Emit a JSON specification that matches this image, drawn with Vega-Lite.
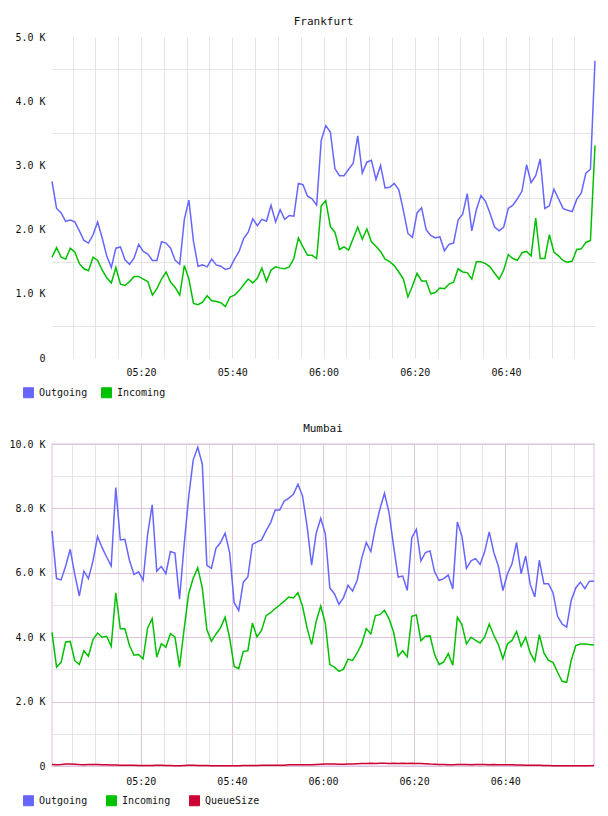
{
  "$schema": "https://vega.github.io/schema/vega-lite/v6.json",
  "background": "white",
  "padding": {"left": 7, "top": 16, "right": 12, "bottom": 5},
  "columns": 1,
  "align": "none",
  "spacing": 22,
  "config": {
    "font": "DejaVu Sans Mono",
    "view": {"stroke": null},
    "axis": {"labelFont": "DejaVu Sans Mono", "labelFontSize": 10, "labelColor": "#111111", "ticks": false, "domain": false, "labelOverlap": false, "labelFlush": false},
    "legend": {"symbolType": "square", "symbolSize": 100, "symbolStrokeWidth": 1, "labelFont": "DejaVu Sans Mono", "labelFontSize": 10, "labelColor": "#111111", "labelOffset": 5},
    "title": {"font": "DejaVu Sans Mono", "fontSize": 11, "fontWeight": "normal", "color": "#111111", "offset": 5}
  },
  "resolve": {"scale": {"color": "independent"}},
  "concat": [
    {
      "title": "Frankfurt",
      "width": 543,
      "height": 321,
      "data": {
        "values": [
          {"t":"2024-05-14T05:00:30Z","s":"Outgoing","v":2750},{"t":"2024-05-14T05:01:30Z","s":"Outgoing","v":2330},{"t":"2024-05-14T05:02:30Z","s":"Outgoing","v":2260},{"t":"2024-05-14T05:03:30Z","s":"Outgoing","v":2130},{"t":"2024-05-14T05:04:30Z","s":"Outgoing","v":2150},
          {"t":"2024-05-14T05:05:30Z","s":"Outgoing","v":2120},{"t":"2024-05-14T05:06:30Z","s":"Outgoing","v":1980},{"t":"2024-05-14T05:07:30Z","s":"Outgoing","v":1830},{"t":"2024-05-14T05:08:30Z","s":"Outgoing","v":1790},{"t":"2024-05-14T05:09:30Z","s":"Outgoing","v":1920},
          {"t":"2024-05-14T05:10:30Z","s":"Outgoing","v":2120},{"t":"2024-05-14T05:11:30Z","s":"Outgoing","v":1870},{"t":"2024-05-14T05:12:30Z","s":"Outgoing","v":1590},{"t":"2024-05-14T05:13:30Z","s":"Outgoing","v":1410},{"t":"2024-05-14T05:14:30Z","s":"Outgoing","v":1710},
          {"t":"2024-05-14T05:15:30Z","s":"Outgoing","v":1730},{"t":"2024-05-14T05:16:30Z","s":"Outgoing","v":1530},{"t":"2024-05-14T05:17:30Z","s":"Outgoing","v":1460},{"t":"2024-05-14T05:18:30Z","s":"Outgoing","v":1560},{"t":"2024-05-14T05:19:30Z","s":"Outgoing","v":1770},
          {"t":"2024-05-14T05:20:30Z","s":"Outgoing","v":1660},{"t":"2024-05-14T05:21:30Z","s":"Outgoing","v":1620},{"t":"2024-05-14T05:22:30Z","s":"Outgoing","v":1520},{"t":"2024-05-14T05:23:30Z","s":"Outgoing","v":1520},{"t":"2024-05-14T05:24:30Z","s":"Outgoing","v":1810},
          {"t":"2024-05-14T05:25:30Z","s":"Outgoing","v":1790},{"t":"2024-05-14T05:26:30Z","s":"Outgoing","v":1710},{"t":"2024-05-14T05:27:30Z","s":"Outgoing","v":1520},{"t":"2024-05-14T05:28:30Z","s":"Outgoing","v":1460},{"t":"2024-05-14T05:29:30Z","s":"Outgoing","v":2160},
          {"t":"2024-05-14T05:30:30Z","s":"Outgoing","v":2460},{"t":"2024-05-14T05:31:30Z","s":"Outgoing","v":1820},{"t":"2024-05-14T05:32:30Z","s":"Outgoing","v":1430},{"t":"2024-05-14T05:33:30Z","s":"Outgoing","v":1450},{"t":"2024-05-14T05:34:30Z","s":"Outgoing","v":1420},
          {"t":"2024-05-14T05:35:30Z","s":"Outgoing","v":1540},{"t":"2024-05-14T05:36:30Z","s":"Outgoing","v":1450},{"t":"2024-05-14T05:37:30Z","s":"Outgoing","v":1430},{"t":"2024-05-14T05:38:30Z","s":"Outgoing","v":1380},{"t":"2024-05-14T05:39:30Z","s":"Outgoing","v":1400},
          {"t":"2024-05-14T05:40:30Z","s":"Outgoing","v":1540},{"t":"2024-05-14T05:41:30Z","s":"Outgoing","v":1660},{"t":"2024-05-14T05:42:30Z","s":"Outgoing","v":1860},{"t":"2024-05-14T05:43:30Z","s":"Outgoing","v":1960},{"t":"2024-05-14T05:44:30Z","s":"Outgoing","v":2170},
          {"t":"2024-05-14T05:45:30Z","s":"Outgoing","v":2060},{"t":"2024-05-14T05:46:30Z","s":"Outgoing","v":2160},{"t":"2024-05-14T05:47:30Z","s":"Outgoing","v":2130},{"t":"2024-05-14T05:48:30Z","s":"Outgoing","v":2380},{"t":"2024-05-14T05:49:30Z","s":"Outgoing","v":2120},
          {"t":"2024-05-14T05:50:30Z","s":"Outgoing","v":2310},{"t":"2024-05-14T05:51:30Z","s":"Outgoing","v":2160},{"t":"2024-05-14T05:52:30Z","s":"Outgoing","v":2220},{"t":"2024-05-14T05:53:30Z","s":"Outgoing","v":2210},{"t":"2024-05-14T05:54:30Z","s":"Outgoing","v":2720},
          {"t":"2024-05-14T05:55:30Z","s":"Outgoing","v":2700},{"t":"2024-05-14T05:56:30Z","s":"Outgoing","v":2520},{"t":"2024-05-14T05:57:30Z","s":"Outgoing","v":2480},{"t":"2024-05-14T05:58:30Z","s":"Outgoing","v":2380},{"t":"2024-05-14T05:59:30Z","s":"Outgoing","v":3390},
          {"t":"2024-05-14T06:00:30Z","s":"Outgoing","v":3620},{"t":"2024-05-14T06:01:30Z","s":"Outgoing","v":3520},{"t":"2024-05-14T06:02:30Z","s":"Outgoing","v":2950},{"t":"2024-05-14T06:03:30Z","s":"Outgoing","v":2840},{"t":"2024-05-14T06:04:30Z","s":"Outgoing","v":2840},
          {"t":"2024-05-14T06:05:30Z","s":"Outgoing","v":2940},{"t":"2024-05-14T06:06:30Z","s":"Outgoing","v":3030},{"t":"2024-05-14T06:07:30Z","s":"Outgoing","v":3460},{"t":"2024-05-14T06:08:30Z","s":"Outgoing","v":2880},{"t":"2024-05-14T06:09:30Z","s":"Outgoing","v":3050},
          {"t":"2024-05-14T06:10:30Z","s":"Outgoing","v":3080},{"t":"2024-05-14T06:11:30Z","s":"Outgoing","v":2780},{"t":"2024-05-14T06:12:30Z","s":"Outgoing","v":3000},{"t":"2024-05-14T06:13:30Z","s":"Outgoing","v":2650},{"t":"2024-05-14T06:14:30Z","s":"Outgoing","v":2660},
          {"t":"2024-05-14T06:15:30Z","s":"Outgoing","v":2720},{"t":"2024-05-14T06:16:30Z","s":"Outgoing","v":2620},{"t":"2024-05-14T06:17:30Z","s":"Outgoing","v":2300},{"t":"2024-05-14T06:18:30Z","s":"Outgoing","v":1940},{"t":"2024-05-14T06:19:30Z","s":"Outgoing","v":1880},
          {"t":"2024-05-14T06:20:30Z","s":"Outgoing","v":2260},{"t":"2024-05-14T06:21:30Z","s":"Outgoing","v":2340},{"t":"2024-05-14T06:22:30Z","s":"Outgoing","v":2000},{"t":"2024-05-14T06:23:30Z","s":"Outgoing","v":1910},{"t":"2024-05-14T06:24:30Z","s":"Outgoing","v":1870},
          {"t":"2024-05-14T06:25:30Z","s":"Outgoing","v":1890},{"t":"2024-05-14T06:26:30Z","s":"Outgoing","v":1670},{"t":"2024-05-14T06:27:30Z","s":"Outgoing","v":1770},{"t":"2024-05-14T06:28:30Z","s":"Outgoing","v":1790},{"t":"2024-05-14T06:29:30Z","s":"Outgoing","v":2150},
          {"t":"2024-05-14T06:30:30Z","s":"Outgoing","v":2240},{"t":"2024-05-14T06:31:30Z","s":"Outgoing","v":2560},{"t":"2024-05-14T06:32:30Z","s":"Outgoing","v":1980},{"t":"2024-05-14T06:33:30Z","s":"Outgoing","v":2310},{"t":"2024-05-14T06:34:30Z","s":"Outgoing","v":2530},
          {"t":"2024-05-14T06:35:30Z","s":"Outgoing","v":2440},{"t":"2024-05-14T06:36:30Z","s":"Outgoing","v":2250},{"t":"2024-05-14T06:37:30Z","s":"Outgoing","v":2040},{"t":"2024-05-14T06:38:30Z","s":"Outgoing","v":1980},{"t":"2024-05-14T06:39:30Z","s":"Outgoing","v":2040},
          {"t":"2024-05-14T06:40:30Z","s":"Outgoing","v":2330},{"t":"2024-05-14T06:41:30Z","s":"Outgoing","v":2380},{"t":"2024-05-14T06:42:30Z","s":"Outgoing","v":2480},{"t":"2024-05-14T06:43:30Z","s":"Outgoing","v":2600},{"t":"2024-05-14T06:44:30Z","s":"Outgoing","v":3010},
          {"t":"2024-05-14T06:45:30Z","s":"Outgoing","v":2730},{"t":"2024-05-14T06:46:30Z","s":"Outgoing","v":2840},{"t":"2024-05-14T06:47:30Z","s":"Outgoing","v":3100},{"t":"2024-05-14T06:48:30Z","s":"Outgoing","v":2330},{"t":"2024-05-14T06:49:30Z","s":"Outgoing","v":2370},
          {"t":"2024-05-14T06:50:30Z","s":"Outgoing","v":2630},{"t":"2024-05-14T06:51:30Z","s":"Outgoing","v":2480},{"t":"2024-05-14T06:52:30Z","s":"Outgoing","v":2330},{"t":"2024-05-14T06:53:30Z","s":"Outgoing","v":2300},{"t":"2024-05-14T06:54:30Z","s":"Outgoing","v":2280},
          {"t":"2024-05-14T06:55:30Z","s":"Outgoing","v":2470},{"t":"2024-05-14T06:56:30Z","s":"Outgoing","v":2570},{"t":"2024-05-14T06:57:30Z","s":"Outgoing","v":2880},{"t":"2024-05-14T06:58:30Z","s":"Outgoing","v":2940},{"t":"2024-05-14T06:59:30Z","s":"Outgoing","v":4630},
          {"t":"2024-05-14T05:00:30Z","s":"Incoming","v":1570},{"t":"2024-05-14T05:01:30Z","s":"Incoming","v":1720},{"t":"2024-05-14T05:02:30Z","s":"Incoming","v":1570},{"t":"2024-05-14T05:03:30Z","s":"Incoming","v":1540},{"t":"2024-05-14T05:04:30Z","s":"Incoming","v":1710},
          {"t":"2024-05-14T05:05:30Z","s":"Incoming","v":1650},{"t":"2024-05-14T05:06:30Z","s":"Incoming","v":1470},{"t":"2024-05-14T05:07:30Z","s":"Incoming","v":1390},{"t":"2024-05-14T05:08:30Z","s":"Incoming","v":1360},{"t":"2024-05-14T05:09:30Z","s":"Incoming","v":1570},
          {"t":"2024-05-14T05:10:30Z","s":"Incoming","v":1520},{"t":"2024-05-14T05:11:30Z","s":"Incoming","v":1370},{"t":"2024-05-14T05:12:30Z","s":"Incoming","v":1250},{"t":"2024-05-14T05:13:30Z","s":"Incoming","v":1170},{"t":"2024-05-14T05:14:30Z","s":"Incoming","v":1410},
          {"t":"2024-05-14T05:15:30Z","s":"Incoming","v":1150},{"t":"2024-05-14T05:16:30Z","s":"Incoming","v":1130},{"t":"2024-05-14T05:17:30Z","s":"Incoming","v":1190},{"t":"2024-05-14T05:18:30Z","s":"Incoming","v":1270},{"t":"2024-05-14T05:19:30Z","s":"Incoming","v":1270},
          {"t":"2024-05-14T05:20:30Z","s":"Incoming","v":1230},{"t":"2024-05-14T05:21:30Z","s":"Incoming","v":1190},{"t":"2024-05-14T05:22:30Z","s":"Incoming","v":980},{"t":"2024-05-14T05:23:30Z","s":"Incoming","v":1080},{"t":"2024-05-14T05:24:30Z","s":"Incoming","v":1230},
          {"t":"2024-05-14T05:25:30Z","s":"Incoming","v":1340},{"t":"2024-05-14T05:26:30Z","s":"Incoming","v":1180},{"t":"2024-05-14T05:27:30Z","s":"Incoming","v":1100},{"t":"2024-05-14T05:28:30Z","s":"Incoming","v":980},{"t":"2024-05-14T05:29:30Z","s":"Incoming","v":1440},
          {"t":"2024-05-14T05:30:30Z","s":"Incoming","v":1230},{"t":"2024-05-14T05:31:30Z","s":"Incoming","v":850},{"t":"2024-05-14T05:32:30Z","s":"Incoming","v":830},{"t":"2024-05-14T05:33:30Z","s":"Incoming","v":870},{"t":"2024-05-14T05:34:30Z","s":"Incoming","v":970},
          {"t":"2024-05-14T05:35:30Z","s":"Incoming","v":890},{"t":"2024-05-14T05:36:30Z","s":"Incoming","v":880},{"t":"2024-05-14T05:37:30Z","s":"Incoming","v":860},{"t":"2024-05-14T05:38:30Z","s":"Incoming","v":800},{"t":"2024-05-14T05:39:30Z","s":"Incoming","v":950},
          {"t":"2024-05-14T05:40:30Z","s":"Incoming","v":980},{"t":"2024-05-14T05:41:30Z","s":"Incoming","v":1050},{"t":"2024-05-14T05:42:30Z","s":"Incoming","v":1140},{"t":"2024-05-14T05:43:30Z","s":"Incoming","v":1230},{"t":"2024-05-14T05:44:30Z","s":"Incoming","v":1170},
          {"t":"2024-05-14T05:45:30Z","s":"Incoming","v":1240},{"t":"2024-05-14T05:46:30Z","s":"Incoming","v":1400},{"t":"2024-05-14T05:47:30Z","s":"Incoming","v":1190},{"t":"2024-05-14T05:48:30Z","s":"Incoming","v":1370},{"t":"2024-05-14T05:49:30Z","s":"Incoming","v":1420},
          {"t":"2024-05-14T05:50:30Z","s":"Incoming","v":1400},{"t":"2024-05-14T05:51:30Z","s":"Incoming","v":1390},{"t":"2024-05-14T05:52:30Z","s":"Incoming","v":1420},{"t":"2024-05-14T05:53:30Z","s":"Incoming","v":1550},{"t":"2024-05-14T05:54:30Z","s":"Incoming","v":1870},
          {"t":"2024-05-14T05:55:30Z","s":"Incoming","v":1730},{"t":"2024-05-14T05:56:30Z","s":"Incoming","v":1600},{"t":"2024-05-14T05:57:30Z","s":"Incoming","v":1600},{"t":"2024-05-14T05:58:30Z","s":"Incoming","v":1550},{"t":"2024-05-14T05:59:30Z","s":"Incoming","v":2370},
          {"t":"2024-05-14T06:00:30Z","s":"Incoming","v":2450},{"t":"2024-05-14T06:01:30Z","s":"Incoming","v":2050},{"t":"2024-05-14T06:02:30Z","s":"Incoming","v":1960},{"t":"2024-05-14T06:03:30Z","s":"Incoming","v":1690},{"t":"2024-05-14T06:04:30Z","s":"Incoming","v":1730},
          {"t":"2024-05-14T06:05:30Z","s":"Incoming","v":1680},{"t":"2024-05-14T06:06:30Z","s":"Incoming","v":1860},{"t":"2024-05-14T06:07:30Z","s":"Incoming","v":2040},{"t":"2024-05-14T06:08:30Z","s":"Incoming","v":1850},{"t":"2024-05-14T06:09:30Z","s":"Incoming","v":2010},
          {"t":"2024-05-14T06:10:30Z","s":"Incoming","v":1810},{"t":"2024-05-14T06:11:30Z","s":"Incoming","v":1740},{"t":"2024-05-14T06:12:30Z","s":"Incoming","v":1660},{"t":"2024-05-14T06:13:30Z","s":"Incoming","v":1540},{"t":"2024-05-14T06:14:30Z","s":"Incoming","v":1500},
          {"t":"2024-05-14T06:15:30Z","s":"Incoming","v":1440},{"t":"2024-05-14T06:16:30Z","s":"Incoming","v":1340},{"t":"2024-05-14T06:17:30Z","s":"Incoming","v":1230},{"t":"2024-05-14T06:18:30Z","s":"Incoming","v":950},{"t":"2024-05-14T06:19:30Z","s":"Incoming","v":1120},
          {"t":"2024-05-14T06:20:30Z","s":"Incoming","v":1320},{"t":"2024-05-14T06:21:30Z","s":"Incoming","v":1200},{"t":"2024-05-14T06:22:30Z","s":"Incoming","v":1200},{"t":"2024-05-14T06:23:30Z","s":"Incoming","v":1000},{"t":"2024-05-14T06:24:30Z","s":"Incoming","v":1020},
          {"t":"2024-05-14T06:25:30Z","s":"Incoming","v":1090},{"t":"2024-05-14T06:26:30Z","s":"Incoming","v":1080},{"t":"2024-05-14T06:27:30Z","s":"Incoming","v":1150},{"t":"2024-05-14T06:28:30Z","s":"Incoming","v":1180},{"t":"2024-05-14T06:29:30Z","s":"Incoming","v":1390},
          {"t":"2024-05-14T06:30:30Z","s":"Incoming","v":1340},{"t":"2024-05-14T06:31:30Z","s":"Incoming","v":1330},{"t":"2024-05-14T06:32:30Z","s":"Incoming","v":1230},{"t":"2024-05-14T06:33:30Z","s":"Incoming","v":1500},{"t":"2024-05-14T06:34:30Z","s":"Incoming","v":1500},
          {"t":"2024-05-14T06:35:30Z","s":"Incoming","v":1470},{"t":"2024-05-14T06:36:30Z","s":"Incoming","v":1420},{"t":"2024-05-14T06:37:30Z","s":"Incoming","v":1320},{"t":"2024-05-14T06:38:30Z","s":"Incoming","v":1230},{"t":"2024-05-14T06:39:30Z","s":"Incoming","v":1370},
          {"t":"2024-05-14T06:40:30Z","s":"Incoming","v":1610},{"t":"2024-05-14T06:41:30Z","s":"Incoming","v":1550},{"t":"2024-05-14T06:42:30Z","s":"Incoming","v":1520},{"t":"2024-05-14T06:43:30Z","s":"Incoming","v":1640},{"t":"2024-05-14T06:44:30Z","s":"Incoming","v":1660},
          {"t":"2024-05-14T06:45:30Z","s":"Incoming","v":1590},{"t":"2024-05-14T06:46:30Z","s":"Incoming","v":2180},{"t":"2024-05-14T06:47:30Z","s":"Incoming","v":1550},{"t":"2024-05-14T06:48:30Z","s":"Incoming","v":1550},{"t":"2024-05-14T06:49:30Z","s":"Incoming","v":1920},
          {"t":"2024-05-14T06:50:30Z","s":"Incoming","v":1650},{"t":"2024-05-14T06:51:30Z","s":"Incoming","v":1590},{"t":"2024-05-14T06:52:30Z","s":"Incoming","v":1520},{"t":"2024-05-14T06:53:30Z","s":"Incoming","v":1490},{"t":"2024-05-14T06:54:30Z","s":"Incoming","v":1510},
          {"t":"2024-05-14T06:55:30Z","s":"Incoming","v":1690},{"t":"2024-05-14T06:56:30Z","s":"Incoming","v":1700},{"t":"2024-05-14T06:57:30Z","s":"Incoming","v":1800},{"t":"2024-05-14T06:58:30Z","s":"Incoming","v":1830},{"t":"2024-05-14T06:59:30Z","s":"Incoming","v":3310}
        ]
      },
      "mark": {"type": "line", "strokeWidth": 1.5},
      "encoding": {
        "x": {
          "field": "t", "type": "temporal",
          "scale": {"type": "utc", "nice": false},
          "axis": {
            "title": null,
            "values": [
              {"utc": true, "year": 2024, "month": 5, "date": 14, "hours": 5, "minutes": 5},
              {"utc": true, "year": 2024, "month": 5, "date": 14, "hours": 5, "minutes": 10},
              {"utc": true, "year": 2024, "month": 5, "date": 14, "hours": 5, "minutes": 15},
              {"utc": true, "year": 2024, "month": 5, "date": 14, "hours": 5, "minutes": 20},
              {"utc": true, "year": 2024, "month": 5, "date": 14, "hours": 5, "minutes": 25},
              {"utc": true, "year": 2024, "month": 5, "date": 14, "hours": 5, "minutes": 30},
              {"utc": true, "year": 2024, "month": 5, "date": 14, "hours": 5, "minutes": 35},
              {"utc": true, "year": 2024, "month": 5, "date": 14, "hours": 5, "minutes": 40},
              {"utc": true, "year": 2024, "month": 5, "date": 14, "hours": 5, "minutes": 45},
              {"utc": true, "year": 2024, "month": 5, "date": 14, "hours": 5, "minutes": 50},
              {"utc": true, "year": 2024, "month": 5, "date": 14, "hours": 5, "minutes": 55},
              {"utc": true, "year": 2024, "month": 5, "date": 14, "hours": 6, "minutes": 0},
              {"utc": true, "year": 2024, "month": 5, "date": 14, "hours": 6, "minutes": 5},
              {"utc": true, "year": 2024, "month": 5, "date": 14, "hours": 6, "minutes": 10},
              {"utc": true, "year": 2024, "month": 5, "date": 14, "hours": 6, "minutes": 15},
              {"utc": true, "year": 2024, "month": 5, "date": 14, "hours": 6, "minutes": 20},
              {"utc": true, "year": 2024, "month": 5, "date": 14, "hours": 6, "minutes": 25},
              {"utc": true, "year": 2024, "month": 5, "date": 14, "hours": 6, "minutes": 30},
              {"utc": true, "year": 2024, "month": 5, "date": 14, "hours": 6, "minutes": 35},
              {"utc": true, "year": 2024, "month": 5, "date": 14, "hours": 6, "minutes": 40},
              {"utc": true, "year": 2024, "month": 5, "date": 14, "hours": 6, "minutes": 45},
              {"utc": true, "year": 2024, "month": 5, "date": 14, "hours": 6, "minutes": 50},
              {"utc": true, "year": 2024, "month": 5, "date": 14, "hours": 6, "minutes": 55}
            ],
            "grid": true, "gridColor": "#e4e4e4",
            "labelPadding": 9,
            "labelExpr": "utcminutes(datum.value) % 20 === 0 ? utcFormat(datum.value, '%H:%M') : ''"
          }
        },
        "y": {
          "field": "v", "type": "quantitative",
          "scale": {"domain": [0, 5000], "nice": false},
          "axis": {
            "title": null,
            "values": [0, 500, 1000, 1500, 2000, 2500, 3000, 3500, 4000, 4500, 5000],
            "grid": true,
            "gridColor": {"condition": {"test": "datum.value % 1000 === 500", "value": "#e4e4e4"}, "value": "transparent"},
            "labelPadding": 7,
            "labelExpr": "datum.value % 1000 !== 0 ? '' : (datum.value === 0 ? '0' : format(datum.value / 1000, '.1f') + ' K')"
          }
        },
        "color": {
          "field": "s", "type": "nominal",
          "scale": {"domain": ["Outgoing", "Incoming"], "range": ["#6666ff", "#00c000"]},
          "legend": {
            "title": null, "orient": "none", "direction": "horizontal",
            "legendX": -29, "legendY": 350, "columnPadding": 11,
            "encode": {"symbols": {"update": {
              "fill": {"signal": "datum.value === 'Outgoing' ? '#6666ff' : '#00c000'"},
              "fillOpacity": {"value": 1}
            }}}
          }
        }
      }
    },
    {
      "title": "Mumbai",
      "width": 542,
      "height": 322,
      "view": {"stroke": "#eedff0", "strokeWidth": 2},
      "data": {
        "values": [
          {"t":"2024-05-14T05:00:30Z","s":"Outgoing","v":7300},{"t":"2024-05-14T05:01:30Z","s":"Outgoing","v":5820},{"t":"2024-05-14T05:02:30Z","s":"Outgoing","v":5780},{"t":"2024-05-14T05:03:30Z","s":"Outgoing","v":6210},{"t":"2024-05-14T05:04:30Z","s":"Outgoing","v":6730},
          {"t":"2024-05-14T05:05:30Z","s":"Outgoing","v":5950},{"t":"2024-05-14T05:06:30Z","s":"Outgoing","v":5280},{"t":"2024-05-14T05:07:30Z","s":"Outgoing","v":6050},{"t":"2024-05-14T05:08:30Z","s":"Outgoing","v":5820},{"t":"2024-05-14T05:09:30Z","s":"Outgoing","v":6370},
          {"t":"2024-05-14T05:10:30Z","s":"Outgoing","v":7130},{"t":"2024-05-14T05:11:30Z","s":"Outgoing","v":6780},{"t":"2024-05-14T05:12:30Z","s":"Outgoing","v":6490},{"t":"2024-05-14T05:13:30Z","s":"Outgoing","v":6210},{"t":"2024-05-14T05:14:30Z","s":"Outgoing","v":8650},
          {"t":"2024-05-14T05:15:30Z","s":"Outgoing","v":7020},{"t":"2024-05-14T05:16:30Z","s":"Outgoing","v":7040},{"t":"2024-05-14T05:17:30Z","s":"Outgoing","v":6390},{"t":"2024-05-14T05:18:30Z","s":"Outgoing","v":5950},{"t":"2024-05-14T05:19:30Z","s":"Outgoing","v":6030},
          {"t":"2024-05-14T05:20:30Z","s":"Outgoing","v":5770},{"t":"2024-05-14T05:21:30Z","s":"Outgoing","v":7200},{"t":"2024-05-14T05:22:30Z","s":"Outgoing","v":8110},{"t":"2024-05-14T05:23:30Z","s":"Outgoing","v":6050},{"t":"2024-05-14T05:24:30Z","s":"Outgoing","v":6200},
          {"t":"2024-05-14T05:25:30Z","s":"Outgoing","v":5970},{"t":"2024-05-14T05:26:30Z","s":"Outgoing","v":6660},{"t":"2024-05-14T05:27:30Z","s":"Outgoing","v":6610},{"t":"2024-05-14T05:28:30Z","s":"Outgoing","v":5180},{"t":"2024-05-14T05:29:30Z","s":"Outgoing","v":6850},
          {"t":"2024-05-14T05:30:30Z","s":"Outgoing","v":8340},{"t":"2024-05-14T05:31:30Z","s":"Outgoing","v":9500},{"t":"2024-05-14T05:32:30Z","s":"Outgoing","v":9900},{"t":"2024-05-14T05:33:30Z","s":"Outgoing","v":9380},{"t":"2024-05-14T05:34:30Z","s":"Outgoing","v":6230},
          {"t":"2024-05-14T05:35:30Z","s":"Outgoing","v":6140},{"t":"2024-05-14T05:36:30Z","s":"Outgoing","v":6760},{"t":"2024-05-14T05:37:30Z","s":"Outgoing","v":6940},{"t":"2024-05-14T05:38:30Z","s":"Outgoing","v":7230},{"t":"2024-05-14T05:39:30Z","s":"Outgoing","v":6630},
          {"t":"2024-05-14T05:40:30Z","s":"Outgoing","v":5070},{"t":"2024-05-14T05:41:30Z","s":"Outgoing","v":4830},{"t":"2024-05-14T05:42:30Z","s":"Outgoing","v":5710},{"t":"2024-05-14T05:43:30Z","s":"Outgoing","v":5870},{"t":"2024-05-14T05:44:30Z","s":"Outgoing","v":6880},
          {"t":"2024-05-14T05:45:30Z","s":"Outgoing","v":6960},{"t":"2024-05-14T05:46:30Z","s":"Outgoing","v":7020},{"t":"2024-05-14T05:47:30Z","s":"Outgoing","v":7300},{"t":"2024-05-14T05:48:30Z","s":"Outgoing","v":7560},{"t":"2024-05-14T05:49:30Z","s":"Outgoing","v":7950},
          {"t":"2024-05-14T05:50:30Z","s":"Outgoing","v":7950},{"t":"2024-05-14T05:51:30Z","s":"Outgoing","v":8230},{"t":"2024-05-14T05:52:30Z","s":"Outgoing","v":8320},{"t":"2024-05-14T05:53:30Z","s":"Outgoing","v":8440},{"t":"2024-05-14T05:54:30Z","s":"Outgoing","v":8750},
          {"t":"2024-05-14T05:55:30Z","s":"Outgoing","v":8390},{"t":"2024-05-14T05:56:30Z","s":"Outgoing","v":7460},{"t":"2024-05-14T05:57:30Z","s":"Outgoing","v":6240},{"t":"2024-05-14T05:58:30Z","s":"Outgoing","v":7230},{"t":"2024-05-14T05:59:30Z","s":"Outgoing","v":7690},
          {"t":"2024-05-14T06:00:30Z","s":"Outgoing","v":7220},{"t":"2024-05-14T06:01:30Z","s":"Outgoing","v":5530},{"t":"2024-05-14T06:02:30Z","s":"Outgoing","v":5350},{"t":"2024-05-14T06:03:30Z","s":"Outgoing","v":5020},{"t":"2024-05-14T06:04:30Z","s":"Outgoing","v":5230},
          {"t":"2024-05-14T06:05:30Z","s":"Outgoing","v":5610},{"t":"2024-05-14T06:06:30Z","s":"Outgoing","v":5430},{"t":"2024-05-14T06:07:30Z","s":"Outgoing","v":5770},{"t":"2024-05-14T06:08:30Z","s":"Outgoing","v":6450},{"t":"2024-05-14T06:09:30Z","s":"Outgoing","v":6940},
          {"t":"2024-05-14T06:10:30Z","s":"Outgoing","v":6660},{"t":"2024-05-14T06:11:30Z","s":"Outgoing","v":7400},{"t":"2024-05-14T06:12:30Z","s":"Outgoing","v":7980},{"t":"2024-05-14T06:13:30Z","s":"Outgoing","v":8470},{"t":"2024-05-14T06:14:30Z","s":"Outgoing","v":7870},
          {"t":"2024-05-14T06:15:30Z","s":"Outgoing","v":6830},{"t":"2024-05-14T06:16:30Z","s":"Outgoing","v":5870},{"t":"2024-05-14T06:17:30Z","s":"Outgoing","v":5900},{"t":"2024-05-14T06:18:30Z","s":"Outgoing","v":5450},{"t":"2024-05-14T06:19:30Z","s":"Outgoing","v":7090},
          {"t":"2024-05-14T06:20:30Z","s":"Outgoing","v":7350},{"t":"2024-05-14T06:21:30Z","s":"Outgoing","v":6370},{"t":"2024-05-14T06:22:30Z","s":"Outgoing","v":6630},{"t":"2024-05-14T06:23:30Z","s":"Outgoing","v":6680},{"t":"2024-05-14T06:24:30Z","s":"Outgoing","v":6030},
          {"t":"2024-05-14T06:25:30Z","s":"Outgoing","v":5760},{"t":"2024-05-14T06:26:30Z","s":"Outgoing","v":5820},{"t":"2024-05-14T06:27:30Z","s":"Outgoing","v":5930},{"t":"2024-05-14T06:28:30Z","s":"Outgoing","v":5500},{"t":"2024-05-14T06:29:30Z","s":"Outgoing","v":7580},
          {"t":"2024-05-14T06:30:30Z","s":"Outgoing","v":7140},{"t":"2024-05-14T06:31:30Z","s":"Outgoing","v":6140},{"t":"2024-05-14T06:32:30Z","s":"Outgoing","v":6370},{"t":"2024-05-14T06:33:30Z","s":"Outgoing","v":6440},{"t":"2024-05-14T06:34:30Z","s":"Outgoing","v":6260},
          {"t":"2024-05-14T06:35:30Z","s":"Outgoing","v":6660},{"t":"2024-05-14T06:36:30Z","s":"Outgoing","v":7270},{"t":"2024-05-14T06:37:30Z","s":"Outgoing","v":6630},{"t":"2024-05-14T06:38:30Z","s":"Outgoing","v":6210},{"t":"2024-05-14T06:39:30Z","s":"Outgoing","v":5450},
          {"t":"2024-05-14T06:40:30Z","s":"Outgoing","v":5970},{"t":"2024-05-14T06:41:30Z","s":"Outgoing","v":6280},{"t":"2024-05-14T06:42:30Z","s":"Outgoing","v":6940},{"t":"2024-05-14T06:43:30Z","s":"Outgoing","v":5970},{"t":"2024-05-14T06:44:30Z","s":"Outgoing","v":6520},
          {"t":"2024-05-14T06:45:30Z","s":"Outgoing","v":5640},{"t":"2024-05-14T06:46:30Z","s":"Outgoing","v":5250},{"t":"2024-05-14T06:47:30Z","s":"Outgoing","v":6390},{"t":"2024-05-14T06:48:30Z","s":"Outgoing","v":5660},{"t":"2024-05-14T06:49:30Z","s":"Outgoing","v":5660},
          {"t":"2024-05-14T06:50:30Z","s":"Outgoing","v":5380},{"t":"2024-05-14T06:51:30Z","s":"Outgoing","v":4650},{"t":"2024-05-14T06:52:30Z","s":"Outgoing","v":4410},{"t":"2024-05-14T06:53:30Z","s":"Outgoing","v":4310},{"t":"2024-05-14T06:54:30Z","s":"Outgoing","v":5150},
          {"t":"2024-05-14T06:55:30Z","s":"Outgoing","v":5530},{"t":"2024-05-14T06:56:30Z","s":"Outgoing","v":5710},{"t":"2024-05-14T06:57:30Z","s":"Outgoing","v":5510},{"t":"2024-05-14T06:58:30Z","s":"Outgoing","v":5740},{"t":"2024-05-14T06:59:30Z","s":"Outgoing","v":5740},
          {"t":"2024-05-14T05:00:30Z","s":"Incoming","v":4150},{"t":"2024-05-14T05:01:30Z","s":"Incoming","v":3070},{"t":"2024-05-14T05:02:30Z","s":"Incoming","v":3220},{"t":"2024-05-14T05:03:30Z","s":"Incoming","v":3850},{"t":"2024-05-14T05:04:30Z","s":"Incoming","v":3870},
          {"t":"2024-05-14T05:05:30Z","s":"Incoming","v":3270},{"t":"2024-05-14T05:06:30Z","s":"Incoming","v":3150},{"t":"2024-05-14T05:07:30Z","s":"Incoming","v":3580},{"t":"2024-05-14T05:08:30Z","s":"Incoming","v":3410},{"t":"2024-05-14T05:09:30Z","s":"Incoming","v":3930},
          {"t":"2024-05-14T05:10:30Z","s":"Incoming","v":4130},{"t":"2024-05-14T05:11:30Z","s":"Incoming","v":4000},{"t":"2024-05-14T05:12:30Z","s":"Incoming","v":4030},{"t":"2024-05-14T05:13:30Z","s":"Incoming","v":3720},{"t":"2024-05-14T05:14:30Z","s":"Incoming","v":5380},
          {"t":"2024-05-14T05:15:30Z","s":"Incoming","v":4260},{"t":"2024-05-14T05:16:30Z","s":"Incoming","v":4260},{"t":"2024-05-14T05:17:30Z","s":"Incoming","v":3750},{"t":"2024-05-14T05:18:30Z","s":"Incoming","v":3440},{"t":"2024-05-14T05:19:30Z","s":"Incoming","v":3460},
          {"t":"2024-05-14T05:20:30Z","s":"Incoming","v":3330},{"t":"2024-05-14T05:21:30Z","s":"Incoming","v":4290},{"t":"2024-05-14T05:22:30Z","s":"Incoming","v":4580},{"t":"2024-05-14T05:23:30Z","s":"Incoming","v":3380},{"t":"2024-05-14T05:24:30Z","s":"Incoming","v":3800},
          {"t":"2024-05-14T05:25:30Z","s":"Incoming","v":3690},{"t":"2024-05-14T05:26:30Z","s":"Incoming","v":4110},{"t":"2024-05-14T05:27:30Z","s":"Incoming","v":4000},{"t":"2024-05-14T05:28:30Z","s":"Incoming","v":3070},{"t":"2024-05-14T05:29:30Z","s":"Incoming","v":4240},
          {"t":"2024-05-14T05:30:30Z","s":"Incoming","v":5350},{"t":"2024-05-14T05:31:30Z","s":"Incoming","v":5830},{"t":"2024-05-14T05:32:30Z","s":"Incoming","v":6160},{"t":"2024-05-14T05:33:30Z","s":"Incoming","v":5530},{"t":"2024-05-14T05:34:30Z","s":"Incoming","v":4240},
          {"t":"2024-05-14T05:35:30Z","s":"Incoming","v":3870},{"t":"2024-05-14T05:36:30Z","s":"Incoming","v":4100},{"t":"2024-05-14T05:37:30Z","s":"Incoming","v":4290},{"t":"2024-05-14T05:38:30Z","s":"Incoming","v":4620},{"t":"2024-05-14T05:39:30Z","s":"Incoming","v":3980},
          {"t":"2024-05-14T05:40:30Z","s":"Incoming","v":3090},{"t":"2024-05-14T05:41:30Z","s":"Incoming","v":3020},{"t":"2024-05-14T05:42:30Z","s":"Incoming","v":3560},{"t":"2024-05-14T05:43:30Z","s":"Incoming","v":3580},{"t":"2024-05-14T05:44:30Z","s":"Incoming","v":4440},
          {"t":"2024-05-14T05:45:30Z","s":"Incoming","v":4010},{"t":"2024-05-14T05:46:30Z","s":"Incoming","v":4210},{"t":"2024-05-14T05:47:30Z","s":"Incoming","v":4670},{"t":"2024-05-14T05:48:30Z","s":"Incoming","v":4760},{"t":"2024-05-14T05:49:30Z","s":"Incoming","v":4890},
          {"t":"2024-05-14T05:50:30Z","s":"Incoming","v":5000},{"t":"2024-05-14T05:51:30Z","s":"Incoming","v":5120},{"t":"2024-05-14T05:52:30Z","s":"Incoming","v":5250},{"t":"2024-05-14T05:53:30Z","s":"Incoming","v":5220},{"t":"2024-05-14T05:54:30Z","s":"Incoming","v":5380},
          {"t":"2024-05-14T05:55:30Z","s":"Incoming","v":4960},{"t":"2024-05-14T05:56:30Z","s":"Incoming","v":4290},{"t":"2024-05-14T05:57:30Z","s":"Incoming","v":3770},{"t":"2024-05-14T05:58:30Z","s":"Incoming","v":4490},{"t":"2024-05-14T05:59:30Z","s":"Incoming","v":4970},
          {"t":"2024-05-14T06:00:30Z","s":"Incoming","v":4440},{"t":"2024-05-14T06:01:30Z","s":"Incoming","v":3150},{"t":"2024-05-14T06:02:30Z","s":"Incoming","v":3070},{"t":"2024-05-14T06:03:30Z","s":"Incoming","v":2940},{"t":"2024-05-14T06:04:30Z","s":"Incoming","v":3010},
          {"t":"2024-05-14T06:05:30Z","s":"Incoming","v":3320},{"t":"2024-05-14T06:06:30Z","s":"Incoming","v":3280},{"t":"2024-05-14T06:07:30Z","s":"Incoming","v":3510},{"t":"2024-05-14T06:08:30Z","s":"Incoming","v":3790},{"t":"2024-05-14T06:09:30Z","s":"Incoming","v":4270},
          {"t":"2024-05-14T06:10:30Z","s":"Incoming","v":4100},{"t":"2024-05-14T06:11:30Z","s":"Incoming","v":4670},{"t":"2024-05-14T06:12:30Z","s":"Incoming","v":4700},{"t":"2024-05-14T06:13:30Z","s":"Incoming","v":4840},{"t":"2024-05-14T06:14:30Z","s":"Incoming","v":4570},
          {"t":"2024-05-14T06:15:30Z","s":"Incoming","v":4160},{"t":"2024-05-14T06:16:30Z","s":"Incoming","v":3410},{"t":"2024-05-14T06:17:30Z","s":"Incoming","v":3580},{"t":"2024-05-14T06:18:30Z","s":"Incoming","v":3390},{"t":"2024-05-14T06:19:30Z","s":"Incoming","v":4650},
          {"t":"2024-05-14T06:20:30Z","s":"Incoming","v":4690},{"t":"2024-05-14T06:21:30Z","s":"Incoming","v":3890},{"t":"2024-05-14T06:22:30Z","s":"Incoming","v":4030},{"t":"2024-05-14T06:23:30Z","s":"Incoming","v":4040},{"t":"2024-05-14T06:24:30Z","s":"Incoming","v":3460},
          {"t":"2024-05-14T06:25:30Z","s":"Incoming","v":3150},{"t":"2024-05-14T06:26:30Z","s":"Incoming","v":3230},{"t":"2024-05-14T06:27:30Z","s":"Incoming","v":3490},{"t":"2024-05-14T06:28:30Z","s":"Incoming","v":3130},{"t":"2024-05-14T06:29:30Z","s":"Incoming","v":4620},
          {"t":"2024-05-14T06:30:30Z","s":"Incoming","v":4390},{"t":"2024-05-14T06:31:30Z","s":"Incoming","v":3790},{"t":"2024-05-14T06:32:30Z","s":"Incoming","v":4000},{"t":"2024-05-14T06:33:30Z","s":"Incoming","v":3900},{"t":"2024-05-14T06:34:30Z","s":"Incoming","v":3820},
          {"t":"2024-05-14T06:35:30Z","s":"Incoming","v":4010},{"t":"2024-05-14T06:36:30Z","s":"Incoming","v":4410},{"t":"2024-05-14T06:37:30Z","s":"Incoming","v":4060},{"t":"2024-05-14T06:38:30Z","s":"Incoming","v":3770},{"t":"2024-05-14T06:39:30Z","s":"Incoming","v":3330},
          {"t":"2024-05-14T06:40:30Z","s":"Incoming","v":3790},{"t":"2024-05-14T06:41:30Z","s":"Incoming","v":3900},{"t":"2024-05-14T06:42:30Z","s":"Incoming","v":4180},{"t":"2024-05-14T06:43:30Z","s":"Incoming","v":3720},{"t":"2024-05-14T06:44:30Z","s":"Incoming","v":4000},
          {"t":"2024-05-14T06:45:30Z","s":"Incoming","v":3510},{"t":"2024-05-14T06:46:30Z","s":"Incoming","v":3250},{"t":"2024-05-14T06:47:30Z","s":"Incoming","v":4080},{"t":"2024-05-14T06:48:30Z","s":"Incoming","v":3510},{"t":"2024-05-14T06:49:30Z","s":"Incoming","v":3280},
          {"t":"2024-05-14T06:50:30Z","s":"Incoming","v":3220},{"t":"2024-05-14T06:51:30Z","s":"Incoming","v":2910},{"t":"2024-05-14T06:52:30Z","s":"Incoming","v":2630},{"t":"2024-05-14T06:53:30Z","s":"Incoming","v":2600},{"t":"2024-05-14T06:54:30Z","s":"Incoming","v":3280},
          {"t":"2024-05-14T06:55:30Z","s":"Incoming","v":3740},{"t":"2024-05-14T06:56:30Z","s":"Incoming","v":3790},{"t":"2024-05-14T06:57:30Z","s":"Incoming","v":3790},{"t":"2024-05-14T06:58:30Z","s":"Incoming","v":3770},{"t":"2024-05-14T06:59:30Z","s":"Incoming","v":3760},
          {"t":"2024-05-14T05:00:30Z","s":"QueueSize","v":50},{"t":"2024-05-14T05:01:30Z","s":"QueueSize","v":40},{"t":"2024-05-14T05:02:30Z","s":"QueueSize","v":45},{"t":"2024-05-14T05:03:30Z","s":"QueueSize","v":60},{"t":"2024-05-14T05:04:30Z","s":"QueueSize","v":65},
          {"t":"2024-05-14T05:05:30Z","s":"QueueSize","v":55},{"t":"2024-05-14T05:06:30Z","s":"QueueSize","v":45},{"t":"2024-05-14T05:07:30Z","s":"QueueSize","v":40},{"t":"2024-05-14T05:08:30Z","s":"QueueSize","v":45},{"t":"2024-05-14T05:09:30Z","s":"QueueSize","v":50},
          {"t":"2024-05-14T05:10:30Z","s":"QueueSize","v":45},{"t":"2024-05-14T05:11:30Z","s":"QueueSize","v":40},{"t":"2024-05-14T05:12:30Z","s":"QueueSize","v":35},{"t":"2024-05-14T05:13:30Z","s":"QueueSize","v":30},{"t":"2024-05-14T05:14:30Z","s":"QueueSize","v":30},
          {"t":"2024-05-14T05:15:30Z","s":"QueueSize","v":25},{"t":"2024-05-14T05:16:30Z","s":"QueueSize","v":25},{"t":"2024-05-14T05:17:30Z","s":"QueueSize","v":20},{"t":"2024-05-14T05:18:30Z","s":"QueueSize","v":20},{"t":"2024-05-14T05:19:30Z","s":"QueueSize","v":15},
          {"t":"2024-05-14T05:20:30Z","s":"QueueSize","v":15},{"t":"2024-05-14T05:21:30Z","s":"QueueSize","v":15},{"t":"2024-05-14T05:22:30Z","s":"QueueSize","v":15},{"t":"2024-05-14T05:23:30Z","s":"QueueSize","v":20},{"t":"2024-05-14T05:24:30Z","s":"QueueSize","v":20},
          {"t":"2024-05-14T05:25:30Z","s":"QueueSize","v":15},{"t":"2024-05-14T05:26:30Z","s":"QueueSize","v":15},{"t":"2024-05-14T05:27:30Z","s":"QueueSize","v":10},{"t":"2024-05-14T05:28:30Z","s":"QueueSize","v":10},{"t":"2024-05-14T05:29:30Z","s":"QueueSize","v":15},
          {"t":"2024-05-14T05:30:30Z","s":"QueueSize","v":20},{"t":"2024-05-14T05:31:30Z","s":"QueueSize","v":20},{"t":"2024-05-14T05:32:30Z","s":"QueueSize","v":15},{"t":"2024-05-14T05:33:30Z","s":"QueueSize","v":15},{"t":"2024-05-14T05:34:30Z","s":"QueueSize","v":15},
          {"t":"2024-05-14T05:35:30Z","s":"QueueSize","v":10},{"t":"2024-05-14T05:36:30Z","s":"QueueSize","v":10},{"t":"2024-05-14T05:37:30Z","s":"QueueSize","v":10},{"t":"2024-05-14T05:38:30Z","s":"QueueSize","v":10},{"t":"2024-05-14T05:39:30Z","s":"QueueSize","v":10},
          {"t":"2024-05-14T05:40:30Z","s":"QueueSize","v":10},{"t":"2024-05-14T05:41:30Z","s":"QueueSize","v":10},{"t":"2024-05-14T05:42:30Z","s":"QueueSize","v":15},{"t":"2024-05-14T05:43:30Z","s":"QueueSize","v":15},{"t":"2024-05-14T05:44:30Z","s":"QueueSize","v":15},
          {"t":"2024-05-14T05:45:30Z","s":"QueueSize","v":15},{"t":"2024-05-14T05:46:30Z","s":"QueueSize","v":20},{"t":"2024-05-14T05:47:30Z","s":"QueueSize","v":25},{"t":"2024-05-14T05:48:30Z","s":"QueueSize","v":25},{"t":"2024-05-14T05:49:30Z","s":"QueueSize","v":20},
          {"t":"2024-05-14T05:50:30Z","s":"QueueSize","v":20},{"t":"2024-05-14T05:51:30Z","s":"QueueSize","v":25},{"t":"2024-05-14T05:52:30Z","s":"QueueSize","v":35},{"t":"2024-05-14T05:53:30Z","s":"QueueSize","v":40},{"t":"2024-05-14T05:54:30Z","s":"QueueSize","v":40},
          {"t":"2024-05-14T05:55:30Z","s":"QueueSize","v":40},{"t":"2024-05-14T05:56:30Z","s":"QueueSize","v":40},{"t":"2024-05-14T05:57:30Z","s":"QueueSize","v":35},{"t":"2024-05-14T05:58:30Z","s":"QueueSize","v":45},{"t":"2024-05-14T05:59:30Z","s":"QueueSize","v":55},
          {"t":"2024-05-14T06:00:30Z","s":"QueueSize","v":60},{"t":"2024-05-14T06:01:30Z","s":"QueueSize","v":65},{"t":"2024-05-14T06:02:30Z","s":"QueueSize","v":60},{"t":"2024-05-14T06:03:30Z","s":"QueueSize","v":55},{"t":"2024-05-14T06:04:30Z","s":"QueueSize","v":55},
          {"t":"2024-05-14T06:05:30Z","s":"QueueSize","v":60},{"t":"2024-05-14T06:06:30Z","s":"QueueSize","v":65},{"t":"2024-05-14T06:07:30Z","s":"QueueSize","v":70},{"t":"2024-05-14T06:08:30Z","s":"QueueSize","v":75},{"t":"2024-05-14T06:09:30Z","s":"QueueSize","v":80},
          {"t":"2024-05-14T06:10:30Z","s":"QueueSize","v":85},{"t":"2024-05-14T06:11:30Z","s":"QueueSize","v":80},{"t":"2024-05-14T06:12:30Z","s":"QueueSize","v":85},{"t":"2024-05-14T06:13:30Z","s":"QueueSize","v":85},{"t":"2024-05-14T06:14:30Z","s":"QueueSize","v":80},
          {"t":"2024-05-14T06:15:30Z","s":"QueueSize","v":85},{"t":"2024-05-14T06:16:30Z","s":"QueueSize","v":80},{"t":"2024-05-14T06:17:30Z","s":"QueueSize","v":85},{"t":"2024-05-14T06:18:30Z","s":"QueueSize","v":80},{"t":"2024-05-14T06:19:30Z","s":"QueueSize","v":85},
          {"t":"2024-05-14T06:20:30Z","s":"QueueSize","v":80},{"t":"2024-05-14T06:21:30Z","s":"QueueSize","v":75},{"t":"2024-05-14T06:22:30Z","s":"QueueSize","v":70},{"t":"2024-05-14T06:23:30Z","s":"QueueSize","v":60},{"t":"2024-05-14T06:24:30Z","s":"QueueSize","v":55},
          {"t":"2024-05-14T06:25:30Z","s":"QueueSize","v":50},{"t":"2024-05-14T06:26:30Z","s":"QueueSize","v":45},{"t":"2024-05-14T06:27:30Z","s":"QueueSize","v":40},{"t":"2024-05-14T06:28:30Z","s":"QueueSize","v":40},{"t":"2024-05-14T06:29:30Z","s":"QueueSize","v":45},
          {"t":"2024-05-14T06:30:30Z","s":"QueueSize","v":50},{"t":"2024-05-14T06:31:30Z","s":"QueueSize","v":45},{"t":"2024-05-14T06:32:30Z","s":"QueueSize","v":40},{"t":"2024-05-14T06:33:30Z","s":"QueueSize","v":45},{"t":"2024-05-14T06:34:30Z","s":"QueueSize","v":50},
          {"t":"2024-05-14T06:35:30Z","s":"QueueSize","v":45},{"t":"2024-05-14T06:36:30Z","s":"QueueSize","v":40},{"t":"2024-05-14T06:37:30Z","s":"QueueSize","v":45},{"t":"2024-05-14T06:38:30Z","s":"QueueSize","v":40},{"t":"2024-05-14T06:39:30Z","s":"QueueSize","v":40},
          {"t":"2024-05-14T06:40:30Z","s":"QueueSize","v":35},{"t":"2024-05-14T06:41:30Z","s":"QueueSize","v":35},{"t":"2024-05-14T06:42:30Z","s":"QueueSize","v":30},{"t":"2024-05-14T06:43:30Z","s":"QueueSize","v":30},{"t":"2024-05-14T06:44:30Z","s":"QueueSize","v":25},
          {"t":"2024-05-14T06:45:30Z","s":"QueueSize","v":25},{"t":"2024-05-14T06:46:30Z","s":"QueueSize","v":20},{"t":"2024-05-14T06:47:30Z","s":"QueueSize","v":20},{"t":"2024-05-14T06:48:30Z","s":"QueueSize","v":15},{"t":"2024-05-14T06:49:30Z","s":"QueueSize","v":15},
          {"t":"2024-05-14T06:50:30Z","s":"QueueSize","v":10},{"t":"2024-05-14T06:51:30Z","s":"QueueSize","v":10},{"t":"2024-05-14T06:52:30Z","s":"QueueSize","v":10},{"t":"2024-05-14T06:53:30Z","s":"QueueSize","v":5},{"t":"2024-05-14T06:54:30Z","s":"QueueSize","v":5},
          {"t":"2024-05-14T06:55:30Z","s":"QueueSize","v":5},{"t":"2024-05-14T06:56:30Z","s":"QueueSize","v":5},{"t":"2024-05-14T06:57:30Z","s":"QueueSize","v":10},{"t":"2024-05-14T06:58:30Z","s":"QueueSize","v":10},{"t":"2024-05-14T06:59:30Z","s":"QueueSize","v":15}
        ]
      },
      "mark": {"type": "line", "strokeWidth": 1.5},
      "encoding": {
        "x": {
          "field": "t", "type": "temporal",
          "scale": {"type": "utc", "nice": false},
          "axis": {
            "title": null,
            "values": [
              {"utc": true, "year": 2024, "month": 5, "date": 14, "hours": 5, "minutes": 5},
              {"utc": true, "year": 2024, "month": 5, "date": 14, "hours": 5, "minutes": 10},
              {"utc": true, "year": 2024, "month": 5, "date": 14, "hours": 5, "minutes": 15},
              {"utc": true, "year": 2024, "month": 5, "date": 14, "hours": 5, "minutes": 20},
              {"utc": true, "year": 2024, "month": 5, "date": 14, "hours": 5, "minutes": 25},
              {"utc": true, "year": 2024, "month": 5, "date": 14, "hours": 5, "minutes": 30},
              {"utc": true, "year": 2024, "month": 5, "date": 14, "hours": 5, "minutes": 35},
              {"utc": true, "year": 2024, "month": 5, "date": 14, "hours": 5, "minutes": 40},
              {"utc": true, "year": 2024, "month": 5, "date": 14, "hours": 5, "minutes": 45},
              {"utc": true, "year": 2024, "month": 5, "date": 14, "hours": 5, "minutes": 50},
              {"utc": true, "year": 2024, "month": 5, "date": 14, "hours": 5, "minutes": 55},
              {"utc": true, "year": 2024, "month": 5, "date": 14, "hours": 6, "minutes": 0},
              {"utc": true, "year": 2024, "month": 5, "date": 14, "hours": 6, "minutes": 5},
              {"utc": true, "year": 2024, "month": 5, "date": 14, "hours": 6, "minutes": 10},
              {"utc": true, "year": 2024, "month": 5, "date": 14, "hours": 6, "minutes": 15},
              {"utc": true, "year": 2024, "month": 5, "date": 14, "hours": 6, "minutes": 20},
              {"utc": true, "year": 2024, "month": 5, "date": 14, "hours": 6, "minutes": 25},
              {"utc": true, "year": 2024, "month": 5, "date": 14, "hours": 6, "minutes": 30},
              {"utc": true, "year": 2024, "month": 5, "date": 14, "hours": 6, "minutes": 35},
              {"utc": true, "year": 2024, "month": 5, "date": 14, "hours": 6, "minutes": 40},
              {"utc": true, "year": 2024, "month": 5, "date": 14, "hours": 6, "minutes": 45},
              {"utc": true, "year": 2024, "month": 5, "date": 14, "hours": 6, "minutes": 50},
              {"utc": true, "year": 2024, "month": 5, "date": 14, "hours": 6, "minutes": 55}
            ],
            "grid": true,
            "gridColor": {"condition": {"test": "utcminutes(datum.value) % 20 === 0", "value": "#dcc5dd"}, "value": "#e6e2e6"},
            "labelPadding": 10,
            "labelExpr": "utcminutes(datum.value) % 20 === 0 ? utcFormat(datum.value, '%H:%M') : ''"
          }
        },
        "y": {
          "field": "v", "type": "quantitative",
          "scale": {"domain": [0, 10000], "nice": false},
          "axis": {
            "title": null,
            "values": [0, 1000, 2000, 3000, 4000, 5000, 6000, 7000, 8000, 9000, 10000],
            "grid": true,
            "gridColor": {"condition": {"test": "datum.value % 2000 === 0", "value": "#dcc5dd"}, "value": "#e6e2e6"},
            "labelPadding": 7,
            "labelExpr": "datum.value % 2000 !== 0 ? '' : (datum.value === 0 ? '0' : format(datum.value / 1000, '.1f') + ' K')"
          }
        },
        "color": {
          "field": "s", "type": "nominal",
          "scale": {"domain": ["Outgoing", "Incoming", "QueueSize"], "range": ["#6666ff", "#00c000", "#cc0033"]},
          "legend": {
            "title": null, "orient": "none", "direction": "horizontal",
            "legendX": -29, "legendY": 351, "columnPadding": 16,
            "encode": {"symbols": {"update": {
              "fill": {"signal": "datum.value === 'Outgoing' ? '#6666ff' : datum.value === 'Incoming' ? '#00c000' : '#cc0033'"},
              "fillOpacity": {"value": 1}
            }}}
          }
        }
      }
    }
  ]
}
